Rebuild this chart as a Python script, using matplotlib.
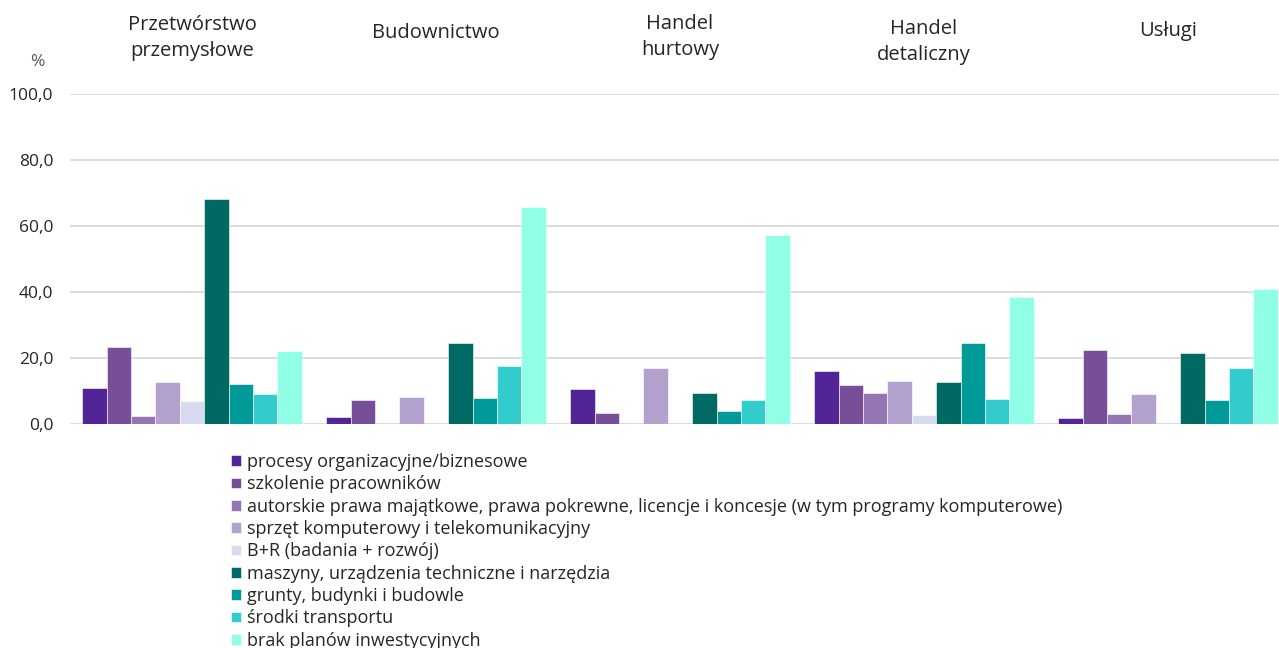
import numpy as np
import matplotlib
matplotlib.use('Agg')
import matplotlib.pyplot as plt
from matplotlib.transforms import blended_transform_factory

plt.rcParams['font.family'] = ['Open Sans', 'DejaVu Sans']

# sectors (top labels)
sectors = ['Przetwórstwo\nprzemysłowe', 'Budownictwo', 'Handel\nhurtowy',
           'Handel\ndetaliczny', 'Usługi']

# investment directions (legend)
series_names = [
    'procesy organizacyjne/biznesowe',
    'szkolenie pracowników',
    'autorskie prawa majątkowe, prawa pokrewne, licencje i koncesje (w tym programy komputerowe)',
    'sprzęt komputerowy i telekomunikacyjny',
    'B+R (badania + rozwój)',
    'maszyny, urządzenia techniczne i narzędzia',
    'grunty, budynki i budowle',
    'środki transportu',
    'brak planów inwestycyjnych',
]

procesy = [11.0, 2.0, 10.5, 16.1, 1.7]
szkolenie = [23.4, 7.2, 3.2, 11.8, 22.3]
prawa = [2.4, 0.0, 0.0, 9.5, 2.9]
sprzet = [12.6, 8.3, 16.9, 12.9, 9.1]
br = [7.1, 0.0, 0.0, 2.8, 0.0]
maszyny = [68.1, 24.5, 9.5, 12.6, 21.5]
grunty = [12.1, 7.8, 4.0, 24.5, 7.2]
transport = [9.0, 17.6, 7.2, 7.5, 16.9]
brak = [22.2, 65.8, 57.3, 38.6, 41.0]

values = [procesy, szkolenie, prawa, sprzet, br, maszyny, grunty, transport, brak]

colors = ['#522597', '#774F98', '#9477B2', '#B3A2CE', '#D8DAEF',
          '#006964', '#009B98', '#33CCCC', '#91FFE5']

yticks = [0, 20, 40, 60, 80, 100]

W, H = 1279, 648
fig = plt.figure(figsize=(W / 100, H / 100), dpi=100)
ax = fig.add_axes([70 / W, 1 - 424 / H, 1220 / W, 330 / H])

n = len(values)
x = np.arange(len(sectors))
bw = 0.9 / n
for i, (vals, c) in enumerate(zip(values, colors)):
    ax.bar(x - 0.45 + bw * (i + 0.5), vals, width=bw, color=c,
           edgecolor='white', linewidth=0.4, label=series_names[i], zorder=3)

ax.set_xlim(-0.5, len(sectors) - 0.5)
ax.set_ylim(0, 100)
ax.set_yticks(yticks)
ax.set_yticklabels([f'{t:.1f}'.replace('.', ',') for t in yticks],
                   fontsize=12.5, color='#262626')
ax.tick_params(axis='y', length=0, pad=12)
ax.set_xticks([])
ax.grid(axis='y', color='#d9d9d9', linewidth=1.3, zorder=0)
for s in ax.spines.values():
    s.set_visible(False)

# sector labels above the plot
label_y = [38, 33, 37, 42, 31]
trans = blended_transform_factory(ax.transData, fig.transFigure)
for xi, name, py in zip(x, sectors, label_y):
    ax.text(xi, 1 - py / H, name, transform=trans,
            ha='center', va='center', fontsize=14.5, color='#262626',
            linespacing=1.45)

fig.text(37 / W, 1 - 62 / H, '%', ha='center', va='center', fontsize=12.5,
         color='#595959')

handles, labels = ax.get_legend_handles_labels()
fig.legend(handles, labels, loc='upper left', bbox_to_anchor=(231 / W, 1 - 453 / H),
           frameon=False, fontsize=13, handlelength=0.55, handleheight=0.55,
           handletextpad=0.35, labelspacing=0.24, borderaxespad=0, borderpad=0,
           labelcolor='#262626')

fig.savefig('out.png', dpi=100)
